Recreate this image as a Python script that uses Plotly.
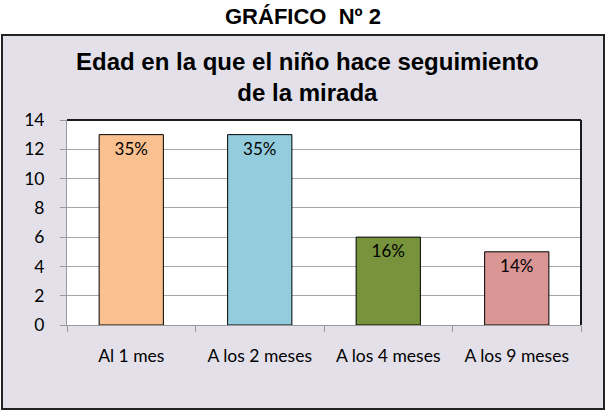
import plotly.graph_objects as go

categories = ["Al 1 mes", "A los 2 meses", "A los 4 meses", "A los 9 meses"]
values = [13, 13, 6, 5]
labels = ["35%", "35%", "16%", "14%"]
colors = ["#FAC090", "#93CDDD", "#77933C", "#D99694"]

W, H = 607, 414
L, R, T, B = 67, 26, 120, 89
pw, ph = W - L - R, H - T - B

def px(x):
    return (x - L) / pw

def py(y):
    return (H - B - y) / ph

fig = go.Figure(go.Bar(
    x=categories, y=values, text=labels,
    marker=dict(color=colors, line=dict(color="#000000", width=1)),
    width=0.5,
    textposition="inside", insidetextanchor="end",
    textfont=dict(family="Lato", size=17, color="#000000"),
    constraintext="none",
))

shapes = [
    dict(type="rect", xref="paper", yref="paper", x0=px(2), x1=px(604), y0=py(409), y1=py(35),
         fillcolor="#E3E0EA", line=dict(color="#222222", width=2), layer="below"),
    dict(type="rect", xref="paper", yref="paper", x0=0, x1=1, y0=0, y1=1,
         fillcolor="#FFFFFF", line=dict(width=0), layer="below"),
    dict(type="line", xref="paper", yref="paper", x0=0, x1=1, y0=1, y1=1,
         line=dict(color="#1A1A1A", width=2), layer="above"),
    dict(type="line", xref="paper", yref="paper", x0=1, x1=1, y0=0, y1=1,
         line=dict(color="#1A1A1A", width=2), layer="above"),
]

annotations = [
    dict(text="<b>GRÁFICO  Nº 2</b>", xref="paper", yref="paper", x=px(303), y=py(16),
         showarrow=False, font=dict(family="Liberation Sans", size=22, color="#000000"),
         xanchor="center", yanchor="middle"),
    dict(text="<b>Edad en la que el niño hace seguimiento<br>de la mirada</b>", xref="paper", yref="paper",
         x=px(307), y=py(77), showarrow=False,
         font=dict(family="Liberation Sans", size=24, color="#000000"),
         xanchor="center", yanchor="middle"),
]

fig.update_layout(
    width=W, height=H, margin=dict(l=L, r=R, t=T, b=B),
    paper_bgcolor="#FFFFFF", plot_bgcolor="rgba(0,0,0,0)",
    showlegend=False, shapes=shapes, annotations=annotations,
    bargap=0.5,
)
fig.update_xaxes(
    showline=True, linecolor="#9A9A9A", linewidth=1,
    ticks="outside", ticklen=6, tickcolor="#9A9A9A", tickson="boundaries",
    tickfont=dict(family="Lato", size=17.5, color="#000000"),
    ticklabelstandoff=15, showgrid=False,
)
fig.update_yaxes(
    range=[0, 14], dtick=2, showline=True, linecolor="#9A9A9A", linewidth=1,
    ticks="outside", ticklen=6, tickcolor="#9A9A9A",
    showgrid=True, gridcolor="#A6A6A6", gridwidth=1,
    tickfont=dict(family="Lato", size=17.5, color="#000000"),
    ticklabelstandoff=12, zeroline=False,
)

fig.write_html("out.html")
